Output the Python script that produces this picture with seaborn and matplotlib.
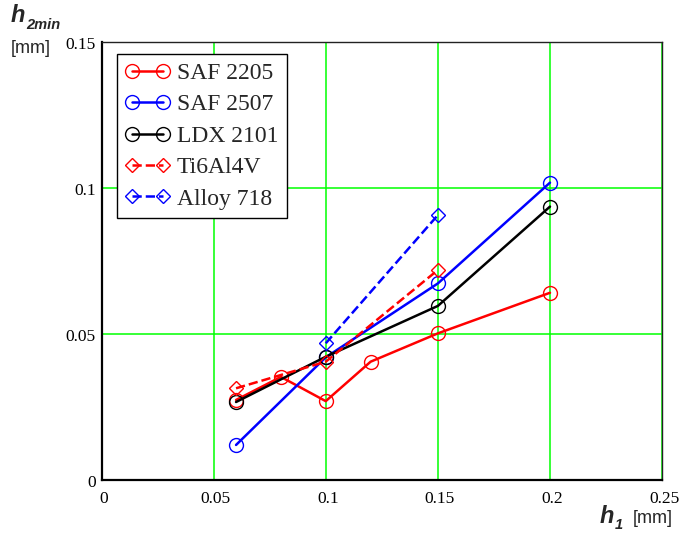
import numpy as np
import pandas as pd
import matplotlib
matplotlib.use("Agg")
import matplotlib.pyplot as plt
import matplotlib.transforms as mtransforms
import seaborn as sns

# Data
saf2205_x = [0.06, 0.08, 0.10, 0.12, 0.15, 0.20]
saf2205_y = [0.0274, 0.0353, 0.0270, 0.0405, 0.0502, 0.0641]

saf2507_x = [0.06, 0.10, 0.15, 0.20]
saf2507_y = [0.0120, 0.0420, 0.0673, 0.1018]

ldx2101_x = [0.06, 0.10, 0.15, 0.20]
ldx2101_y = [0.0267, 0.0422, 0.0596, 0.0936]

ti6al4v_x = [0.06, 0.10, 0.15]
ti6al4v_y = [0.0314, 0.0405, 0.0719]

alloy718_x = [0.10, 0.15]
alloy718_y = [0.0468, 0.0907]

x_ticks = [0, 0.05, 0.1, 0.15, 0.2, 0.25]
x_tick_labels = ["0", "0.05", "0.1", "0.15", "0.2", "0.25"]
y_ticks = [0, 0.05, 0.1, 0.15]
y_tick_labels = ["0", "0.05", "0.1", "0.15"]

sns.set_theme(style="white")
plt.rcParams['font.family'] = ['Liberation Serif', 'DejaVu Serif']

fig = plt.figure(figsize=(6.84, 5.38), dpi=100)
ax = fig.add_axes([0.1484, 0.1078, 0.8196, 0.8144])

series = [
    ("SAF 2205", saf2205_x, saf2205_y, "#ff0000", "o", "-"),
    ("SAF 2507", saf2507_x, saf2507_y, "#0000ff", "o", "-"),
    ("LDX 2101", ldx2101_x, ldx2101_y, "#000000", "o", "-"),
    ("Ti6Al4V", ti6al4v_x, ti6al4v_y, "#ff0000", "D", "--"),
    ("Alloy 718", alloy718_x, alloy718_y, "#0000ff", "D", "--"),
]

for name, xs, ys, col, mk, ls in series:
    df = pd.DataFrame({"x": xs, "y": ys})
    msize = 10 if mk == "o" else 7
    sns.lineplot(data=df, x="x", y="y", ax=ax, color=col, linestyle=ls,
                 linewidth=1.8, marker=mk, markersize=msize,
                 markerfacecolor="none", markeredgecolor=col,
                 markeredgewidth=1.0, sort=False, estimator=None,
                 label=name, dashes=(3, 2) if ls == "--" else "")

ax.set_xlim(0, 0.25)
ax.set_ylim(0, 0.15)
ax.set_xticks(x_ticks)
ax.set_xticklabels(x_tick_labels)
ax.set_yticks(y_ticks)
ax.set_yticklabels(y_tick_labels)
ax.grid(True, color="#00ff00", linewidth=1.1)
ax.tick_params(axis="both", length=0, labelsize=12.5, colors="black")
ax.tick_params(axis="x", pad=8)
ax.tick_params(axis="y", pad=4)
shift = mtransforms.ScaledTranslation(2 / 100, 0, fig.dpi_scale_trans)
for lab in ax.get_xticklabels():
    lab.set_horizontalalignment("center")
    lab.set_transform(lab.get_transform() + shift)
down = mtransforms.ScaledTranslation(0, -3 / 100, fig.dpi_scale_trans)
for lab in ax.get_yticklabels():
    lab.set_verticalalignment("center")
    lab.set_transform(lab.get_transform() + down)
for side in ["top", "right"]:
    ax.spines[side].set_color("#222222")
    ax.spines[side].set_linewidth(1.0)
for side in ["left", "bottom"]:
    ax.spines[side].set_color("black")
    ax.spines[side].set_linewidth(1.6)

ax.set_xlabel("")
ax.set_ylabel("")

leg = ax.legend(loc="upper left", bbox_to_anchor=(0.027, 0.972), numpoints=2,
                fontsize=17, frameon=True, fancybox=False, edgecolor="black",
                framealpha=1, handlelength=1.9, handletextpad=0.3,
                labelspacing=0.42, borderpad=0.35, borderaxespad=0)
leg.get_frame().set_linewidth(1.0)

# axis titles in the corners
fig.text(0.015, 0.959, "h", fontsize=17, fontweight="bold", style="italic",
         family="Liberation Sans", ha="left", va="baseline")
fig.text(0.038, 0.946, "2min", fontsize=10.5, fontweight="bold", style="italic",
         family="Liberation Sans", ha="left", va="baseline")
fig.text(0.016, 0.902, "[mm]", fontsize=13, family="Liberation Sans",
         ha="left", va="baseline")

fig.text(0.877, 0.028, "h", fontsize=17, fontweight="bold", style="italic",
         family="Liberation Sans", ha="left", va="baseline")
fig.text(0.899, 0.017, "1", fontsize=10.5, fontweight="bold", style="italic",
         family="Liberation Sans", ha="left", va="baseline")
fig.text(0.925, 0.028, "[mm]", fontsize=13, family="Liberation Sans",
         ha="left", va="baseline")

fig.savefig("out.png", dpi=100)
